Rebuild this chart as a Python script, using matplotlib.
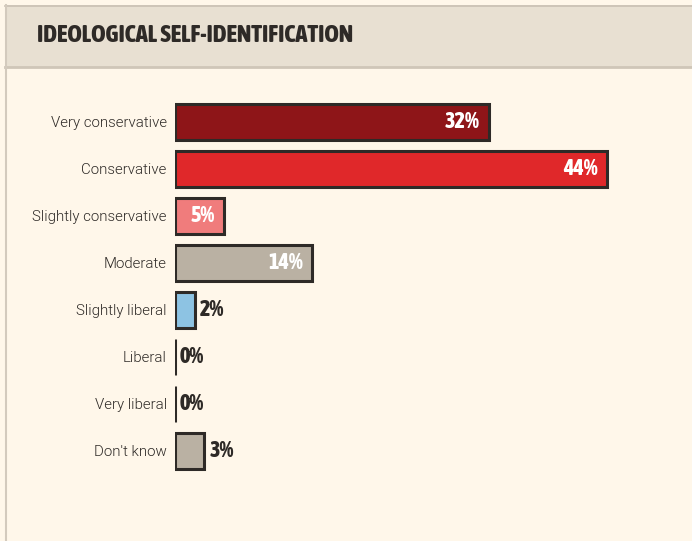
import matplotlib
matplotlib.use("Agg")
import matplotlib.pyplot as plt
from matplotlib.patches import Rectangle
from matplotlib.lines import Line2D
from matplotlib import font_manager
from matplotlib.font_manager import FontProperties

categories = ["Very conservative", "Conservative", "Slightly conservative", "Moderate",
              "Slightly liberal", "Liberal", "Very liberal", "Don't know"]
values = [32, 44, 5, 14, 2, 0, 0, 3]
value_labels = ["32%", "44%", "5%", "14%", "2%", "0%", "0%", "3%"]
colors = ["#8e1518", "#e0282a", "#f07c7c", "#bab1a3", "#8dc3e3", "#bab1a3", "#bab1a3", "#bab1a3"]
inside = [True, True, True, True, False, False, False, False]
title = "IDEOLOGICAL SELF-IDENTIFICATION"


def stretch_num(s):
    if isinstance(s, (int, float)):
        return s
    return font_manager.stretch_dict.get(s, 500)


def weight_num(w):
    if isinstance(w, (int, float)):
        return w
    return font_manager.weight_dict.get(w, 400)


best = None
for f in font_manager.fontManager.ttflist:
    if "Serif" in f.name or "Mono" in f.name or "CJK" in f.name:
        continue
    w = weight_num(f.weight)
    st = stretch_num(f.stretch)
    if w >= 600 and f.style == "normal":
        key = (st, abs(w - 800))
        if best is None or key < best[0]:
            best = (key, f.fname)
cond_fp = FontProperties(fname=best[1]) if best else FontProperties(family="DejaVu Sans", weight="bold")

light_fp = FontProperties(family="Roboto", weight=300, size=10.8)

W, H = 692, 541
fig = plt.figure(figsize=(W / 100, H / 100), dpi=100)
fig.patch.set_facecolor("#fff7ea")

# header band
fig.add_artist(Rectangle((5 / W, 1 - 67 / H), 1, 62 / H, transform=fig.transFigure,
                         facecolor="#e8e0d2", edgecolor="none", zorder=0))
fig.add_artist(Line2D([5 / W, 1], [1 - 5.5 / H, 1 - 5.5 / H], transform=fig.transFigure,
                      color="#c9c0b3", lw=1.2))
fig.add_artist(Line2D([5 / W, 1], [1 - 67 / H, 1 - 67 / H], transform=fig.transFigure,
                      color="#cfc6b8", lw=2.0))
fig.add_artist(Line2D([5.5 / W, 5.5 / W], [0, 1 - 5 / H], transform=fig.transFigure,
                      color="#d3cabd", lw=1.5))
tfp = cond_fp.copy()
tfp.set_size(22)
t = fig.text(37 / W, 1 - 36 / H, title, fontproperties=tfp,
             color="#2e2a27", va="center", ha="left")
fig.canvas.draw()
tw = t.get_window_extent().width
newsize = max(15, min(22, 22 * 315 / tw))
tfp.set_size(newsize)
t.set_fontproperties(tfp)

x0 = 175
ppu = 9.82
ax = fig.add_axes([x0 / W, 1 - 474.5 / H, (W - x0) / W, (474.5 - 98.5) / H])
ax.set_facecolor("none")
ax.set_xlim(0, (W - x0) / ppu)
ax.set_ylim(len(categories) - 0.5, -0.5)
ypos = list(range(len(categories)))
ax.barh(ypos, values, height=0.76, color=colors, edgecolor="#2e2a27", linewidth=2.2, zorder=3)
ax.set_yticks(ypos)
ax.set_yticklabels(categories, fontproperties=light_fp, color="#2e2a27")
ax.tick_params(axis="y", length=0, pad=6)
ax.set_xticks([])
for s in ax.spines.values():
    s.set_visible(False)

vfp = cond_fp.copy()
vfp.set_size(16)
for y, v, lab, ins in zip(ypos, values, value_labels, inside):
    if ins:
        ax.annotate(lab, (v, y), xytext=(-7, 0), textcoords="offset points", ha="right",
                    va="center", color="white", fontproperties=vfp)
    else:
        ax.annotate(lab, (v, y), xytext=(3.5, 0), textcoords="offset points", ha="left",
                    va="center", color="#2e2a27", fontproperties=vfp)

fig.savefig("out.png", dpi=100, facecolor=fig.get_facecolor())
